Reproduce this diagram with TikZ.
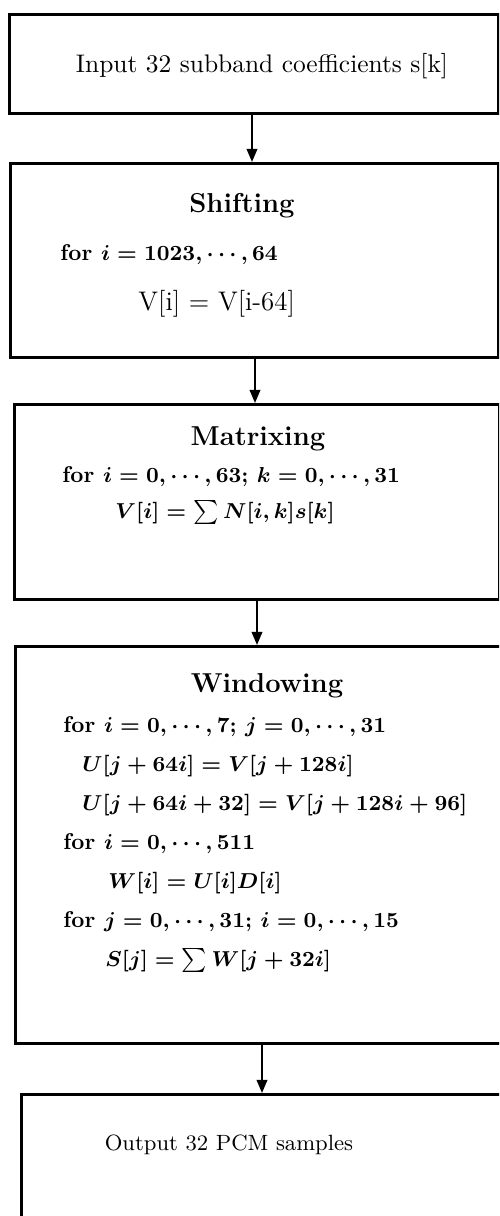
\documentclass[tikz,border=0pt]{standalone}
\usetikzlibrary{arrows.meta}
\newcommand{\fsz}{\fontsize{10.6}{12}\selectfont}
\newcommand{\tsz}{\fontsize{11.4}{13}\selectfont}
\newcommand{\msz}{\fontsize{9.5}{11}\selectfont}
\begin{document}
\begin{tikzpicture}[x=0.4167pt,y=-0.4167pt,
  box/.style={draw,line width=1.2pt,inner sep=0pt,anchor=north west},
  arr/.style={line width=0.9pt,-{Triangle[length=5.5pt,width=4.4pt]}},
  txt/.style={anchor=base west,inner sep=0pt,font=\msz\boldmath},
  btxt/.style={anchor=base west,inner sep=0pt,font=\msz\bfseries\boldmath},
  ntxt/.style={anchor=base west,inner sep=0pt,font=\fontsize{11.2}{13}\selectfont},
  ctxt/.style={anchor=base,inner sep=0pt,font=\fsz},
  ttl/.style={anchor=base,inner sep=0pt,font=\tsz\bfseries}]
\useasboundingbox (0,0) rectangle (499,1216);
\begin{scope}
\clip (0,0) rectangle (499,1216);
\node[box,minimum width=203.8pt,minimum height=41.25pt] (b1) at (8,13) {};
\node[box,minimum width=203.3pt,minimum height=80.8pt] (b2) at (9,162) {};
\node[box,minimum width=202.1pt,minimum height=81.25pt] (b3) at (13,403) {};
\node[box,minimum width=208.4pt,minimum height=165.6pt] (b4) at (14,645) {};
\node[box,minimum width=208.4pt,minimum height=60pt] (b5) at (20,1093) {};
\end{scope}
\node[ctxt] (t1) at (262,72) {Input 32 subband coefficients s[k]};
\node[ttl] (h2) at (242,212) {Shifting};
\node[btxt] (l21) at (60,260) {for $i=1023,\cdots,64$};
\node[ntxt] (l22) at (138,310) {V[i] $=$ V[i-64]};
\node[ttl] (h3) at (258,445) {Matrixing};
\node[btxt] (l31) at (62,482) {for $i=0,\cdots,63;\,k=0,\cdots,31$};
\node[txt] (l32) at (115,518) {$V[i]=\sum N[i,k]s[k]$};
\node[ttl] (h4) at (267,692) {Windowing};
\node[btxt] (l41) at (63,732) {for $i=0,\cdots,7;\,j=0,\cdots,31$};
\node[txt] (l42) at (82,771) {$U[j+64i]=V[j+128i]$};
\node[txt] (l43) at (82,810) {$U[j+64i+32]=V[j+128i+96]$};
\node[btxt] (l44) at (63,849) {for $i=0,\cdots,511$};
\node[txt] (l45) at (108,888) {$W[i]=U[i]D[i]$};
\node[btxt] (l46) at (63,927) {for $j=0,\cdots,31;\,i=0,\cdots,15$};
\node[txt] (l47) at (105,966) {$S[j]=\sum W[j+32i]$};
\node[ctxt,font=\fontsize{9.2}{11}\selectfont] (t5) at (229,1150) {Output 32 PCM samples};
\coordinate (a1) at (252,0);
\coordinate (a2) at (255,0);
\coordinate (a3) at (257,0);
\coordinate (a4) at (262,0);
\draw[arr] (b1.south -| a1) -- (b2.north -| a1);
\draw[arr] (b2.south -| a2) -- (b3.north -| a2);
\draw[arr] (b3.south -| a3) -- (b4.north -| a3);
\draw[arr] (b4.south -| a4) -- (b5.north -| a4);
\end{tikzpicture}
\end{document}
